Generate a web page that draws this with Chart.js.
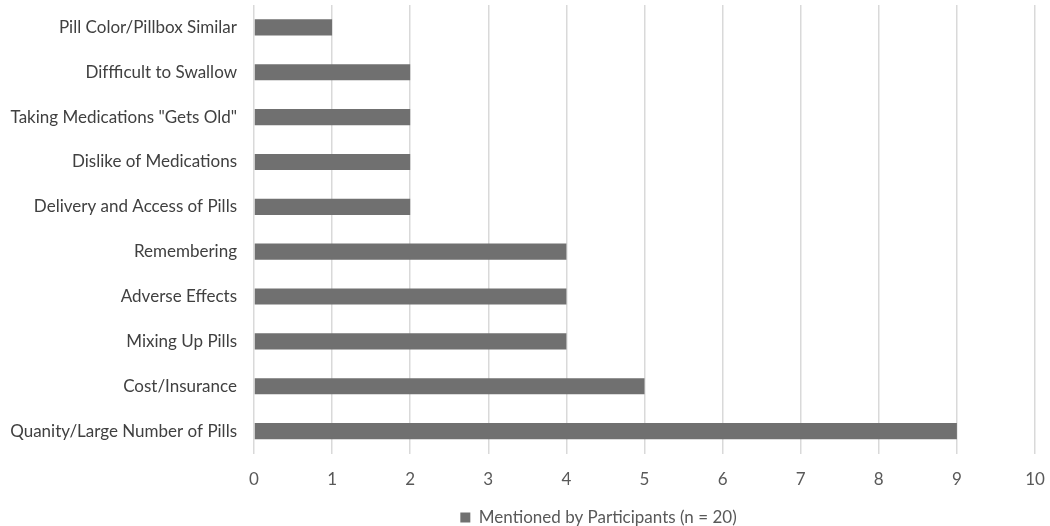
<!DOCTYPE html>
<html>
<head>
<meta charset="utf-8">
<script src="https://cdn.jsdelivr.net/npm/chart.js@4"></script>
<style>
  html, body { margin: 0; padding: 0; background: #fff; }
  #wrap { width: 1050px; height: 526px; }
</style>
</head>
<body>
<div id="wrap"><canvas id="barChart" width="1050" height="526"></canvas></div>
<script>
// categories, top to bottom
var categories = [
    'Pill Color/Pillbox Similar',
    'Diffficult to Swallow',
    'Taking Medications "Gets Old"',
    'Dislike of Medications',
    'Delivery and Access of Pills',
    'Remembering',
    'Adverse Effects',
    'Mixing Up Pills',
    'Cost/Insurance',
    'Quanity/Large Number of Pills'
];
var mentionCounts = [1, 2, 2, 2, 2, 4, 4, 4, 5, 9];
var seriesLabel = 'Mentioned by Participants (n = 20)';
var xTicks = [0, 1, 2, 3, 4, 5, 6, 7, 8, 9, 10];

var fontFamily = 'Lato, "Open Sans", sans-serif';

// the original legend sits a bit right of the canvas centre
var legendShift = {
    id: 'legendShift',
    afterLayout: function (chart) {
        chart.legend.left += 81;
        chart.legend.right += 81;
    }
};

var barChart = new Chart(document.getElementById('barChart'), {
    type: 'bar',
    plugins: [legendShift],
    data: {
        labels: categories,
        datasets: [{
            label: seriesLabel,
            data: mentionCounts,
            backgroundColor: '#707070',
            borderWidth: 0,
            barPercentage: 0.36,
            categoryPercentage: 1.0
        }]
    },
    options: {
        indexAxis: 'y',
        responsive: false,
        animation: false,
        layout: {
            // legend box is taller than needed, let it hang off the bottom
            padding: { top: 5, right: 15, left: 0, bottom: -10 }
        },
        plugins: {
            tooltip: { enabled: false },
            legend: {
                position: 'bottom',
                labels: {
                    font: { family: fontFamily, size: 17 },
                    color: '#595959',
                    boxWidth: 10,
                    boxHeight: 10,
                    padding: 1
                }
            }
        },
        scales: {
            x: {
                min: 0,
                max: 10,
                afterBuildTicks: function (axis) {
                    axis.ticks = xTicks.map(function (v) { return { value: v }; });
                },
                afterFit: function (scale) {
                    scale.height = 54.5;
                    scale.paddingLeft = 0;
                    scale.paddingRight = 0;
                },
                grid: { color: '#d9d9d9', lineWidth: 1.5, drawTicks: false },
                border: { display: false },
                ticks: {
                    padding: 15.5,
                    color: '#595959',
                    font: { family: fontFamily, size: 17 }
                }
            },
            y: {
                grid: { display: false, drawTicks: false },
                border: { display: false },
                afterFit: function (scale) {
                    scale.width = 254;
                    scale.paddingTop = 0;
                    scale.paddingBottom = 0;
                },
                ticks: {
                    padding: 17,
                    color: '#404040',
                    font: { family: fontFamily, size: 17 }
                }
            }
        }
    }
});
</script>
</body>
</html>
